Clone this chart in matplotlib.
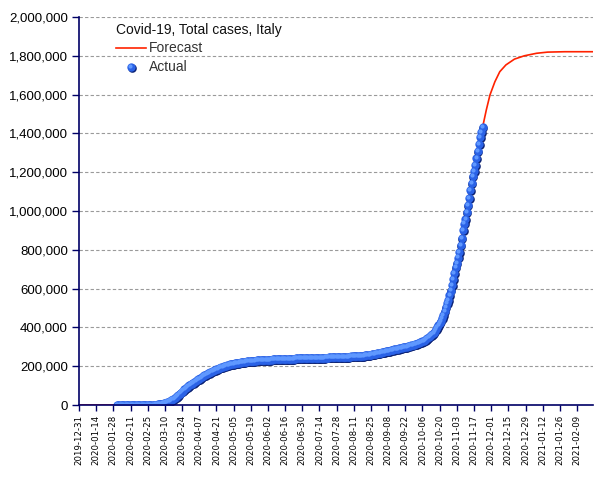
#!/usr/bin/env python3
"""Covid-19 total cases in Italy: reported counts plus the model forecast."""
import numpy as np
import pandas as pd
import matplotlib
matplotlib.use("Agg")
import matplotlib.pyplot as plt
import matplotlib.dates as mdates
from matplotlib.ticker import FuncFormatter
from matplotlib.transforms import offset_copy

plt.rcParams["font.family"] = ["Liberation Sans", "DejaVu Sans"]

TITLE = "Covid-19, Total cases, Italy"

# --- Actual cumulative cases, one value per day from 2020-01-31 -------------
ACTUAL_START = "2020-01-31"
actual_values = [
    2,
    2, 2, 2, 2, 2,
    3, 3, 3, 3, 3, 3, 3, 3, 3, 3, 3, 3, 3, 3, 3,
    20, 79, 157, 229, 322, 400, 650, 888, 1128,
    # March
    1694, 2036, 2502, 3089, 3858, 4636, 5883, 7375, 9172, 10149,
    12462, 15113, 17660, 21157, 24747, 27980, 31506, 35713, 41035, 47021,
    53578, 59138, 63927, 69176, 74386, 80589, 86498, 92472, 97689, 101739,
    105792,
    # April
    110574, 115242, 119827, 124632, 128948, 132547, 135586, 139422, 143626, 147577,
    152271, 156363, 159516, 162488, 165155, 168941, 172434, 175925, 178972, 181228,
    183957, 187327, 189973, 192994, 195351, 197675, 199414, 201505, 203591, 205463,
    # May
    207428, 209328, 210717, 211938, 213013, 214457, 215858, 217185, 218268, 219070,
    219814, 221216, 222104, 223096, 223885, 224760, 225435, 225886, 226699, 227364,
    228006, 228658, 229327, 229858, 230158, 230555, 231139, 231732, 232248, 232664,
    233019,
    # June
    233197, 233515, 233836, 234013, 234531, 234801, 234998, 235278, 235561, 235763,
    236142, 236305, 236651, 236989, 237290, 237500, 237828, 238159, 238011, 238275,
    238499, 238720, 238833, 239410, 239706, 239961, 240136, 240310, 240436, 240578,
    # July
    240760, 240961, 241184, 241419, 241611, 241819, 241956, 242149, 242363, 242639,
    242827, 243061, 243230, 243344, 243506, 243736, 243967, 244216, 244434, 244624,
    244752, 244868, 245032, 245338, 245590, 245864, 246118, 246286, 246488, 246776,
    247158,
    # August
    247537, 247832, 248070, 248229, 248419, 248803, 249204, 249756, 250103, 250566,
    250825, 251237, 251713, 252235, 252809, 253438, 253915, 254235, 254636, 255278,
    256118, 257065, 258136, 259345, 260298, 261174, 262540, 263949, 265409, 267273,
    268218,
    # September
    269214, 270189, 271515, 272912, 274644, 276338, 277634, 278784, 280153, 281583,
    283180, 284796, 286297, 287753, 288761, 290217, 291442, 293025, 294932, 296569,
    298156, 299506, 300897, 302537, 304323, 306235, 308104, 309870, 311364, 313011,
    # October
    314861, 317409, 319908, 322751, 325329, 327586, 330263, 333940, 338398, 343770,
    349494, 354950, 359569, 365467, 372799, 381602, 391611, 402536, 414241, 423578,
    434449, 449648, 465726, 484869, 504509, 525782, 542789, 564778, 589766, 616595,
    647674,
    # November
    679430, 709335, 731588, 759829, 790377, 824879, 862681, 902490, 935104, 960373,
    995463, 1028424, 1066401, 1107303, 1144552, 1178529, 1205881, 1238072, 1272352,
    1308528, 1345767, 1380531, 1408868, 1431795,
]

# --- Forecast (fitted curve) -----------------------------------------------
forecast_dates = [
    "2019-12-31", "2020-01-31", "2020-02-20", "2020-02-27", "2020-03-05",
    "2020-03-12", "2020-03-19", "2020-03-26", "2020-04-02", "2020-04-12",
    "2020-04-25", "2020-05-10", "2020-06-01", "2020-07-01", "2020-08-01",
    "2020-08-20", "2020-09-05", "2020-09-20", "2020-10-01", "2020-10-08",
    "2020-10-15", "2020-10-20", "2020-10-25", "2020-10-30", "2020-11-04",
    "2020-11-09", "2020-11-14", "2020-11-19", "2020-11-24", "2020-11-27",
    "2020-11-30", "2020-12-04", "2020-12-08", "2020-12-13", "2020-12-20",
    "2020-12-28", "2021-01-07", "2021-01-16", "2021-01-30", "2021-02-22",
]
forecast_values = [
    0, 0, 3, 650, 3858,
    15113, 41035, 80589, 115242, 156363,
    195351, 219070, 233197, 240760, 247537,
    255278, 276338, 296569, 314861, 333940,
    372799, 423578, 504509, 616595, 759829,
    935104, 1107303, 1272352, 1431795, 1520000,
    1598000, 1666000, 1718000, 1753000, 1783000,
    1800000, 1813000, 1819000, 1821000, 1821000,
]

Y_TICKS = [0, 200000, 400000, 600000, 800000, 1000000, 1200000, 1400000,
           1600000, 1800000, 2000000]
X_TICK_START = "2019-12-31"
X_TICK_END = "2021-02-09"
X_LIMITS = ("2019-12-31", "2021-02-22")

NAVY = "#000066"
RED = "#ff2200"


def balls(ax, fig, x, y, transform=None, **kw):
    """Draw markers that look like small shaded spheres."""
    base = ax.transData if transform is None else transform
    shadow = offset_copy(base, fig=fig, x=0.6, y=-0.9, units="dots")
    shine = offset_copy(base, fig=fig, x=-0.9, y=1.1, units="dots")
    ax.plot(x, y, "o", ms=6.2, mew=0, color="#0c2274", transform=shadow,
            zorder=3, **kw)
    ax.plot(x, y, "o", ms=6.0, mew=0, color="#2a62e6", transform=base,
            zorder=4, **kw)
    ax.plot(x, y, "o", ms=3.0, mew=0, color="#5f98ff", transform=shine,
            zorder=5, **kw)


def main() -> int:
    actual_dates = pd.date_range(ACTUAL_START, periods=len(actual_values), freq="D")
    f_dates = pd.to_datetime(forecast_dates)

    fig = plt.figure(figsize=(6.05, 4.8), dpi=100)
    ax = fig.add_axes([79 / 605, 75 / 480, 514 / 605, 388 / 480])

    # forecast line underneath the markers
    ax.plot(f_dates, forecast_values, color=RED, linewidth=1.2, zorder=2,
            solid_joinstyle="round")
    balls(ax, fig, actual_dates, actual_values)

    # --- axes styling -------------------------------------------------------
    ax.set_ylim(0, 2000000)
    ax.set_xlim(pd.Timestamp(X_LIMITS[0]), pd.Timestamp(X_LIMITS[1]))
    ax.set_yticks(Y_TICKS)
    ax.yaxis.set_major_formatter(FuncFormatter(lambda v, _: f"{int(v):,}"))
    xticks = pd.date_range(X_TICK_START, X_TICK_END, freq="14D")
    ax.set_xticks(xticks)
    ax.xaxis.set_major_formatter(mdates.DateFormatter("%Y-%m-%d"))
    ax.tick_params(axis="x", labelrotation=90, length=4, width=1,
                   color=NAVY, pad=3)
    for lab in ax.get_xticklabels():
        lab.set_fontfamily(["DejaVu Sans"])
        lab.set_fontsize(6.2)
    ax.tick_params(axis="y", labelsize=9.5, length=5, width=1, color=NAVY, pad=3)

    for side in ("top", "right"):
        ax.spines[side].set_visible(False)
    for side in ("left", "bottom"):
        ax.spines[side].set_color(NAVY)
        ax.spines[side].set_linewidth(1.2)
        ax.spines[side].set_zorder(6)

    ax.grid(axis="y", color="#9a9a9a", linestyle=(0, (3, 2)), linewidth=0.8)
    ax.set_axisbelow(True)

    # --- legend, drawn by hand ---------------------------------------------
    tr = ax.transAxes
    ax.text(0.072, 0.966, TITLE, transform=tr, fontsize=10, va="center",
            ha="left", color="#111111")
    ax.plot([0.072, 0.130], [0.919, 0.919], transform=tr, color=RED,
            linewidth=1.2, clip_on=False)
    ax.text(0.136, 0.919, "Forecast", transform=tr, fontsize=10, va="center",
            ha="left", color="#333333")
    balls(ax, fig, [0.101], [0.870], transform=tr, clip_on=False)
    ax.text(0.136, 0.870, "Actual", transform=tr, fontsize=10, va="center",
            ha="left", color="#333333")

    fig.savefig("out.png", dpi=100)
    return 0


if __name__ == "__main__":
    raise SystemExit(main())
